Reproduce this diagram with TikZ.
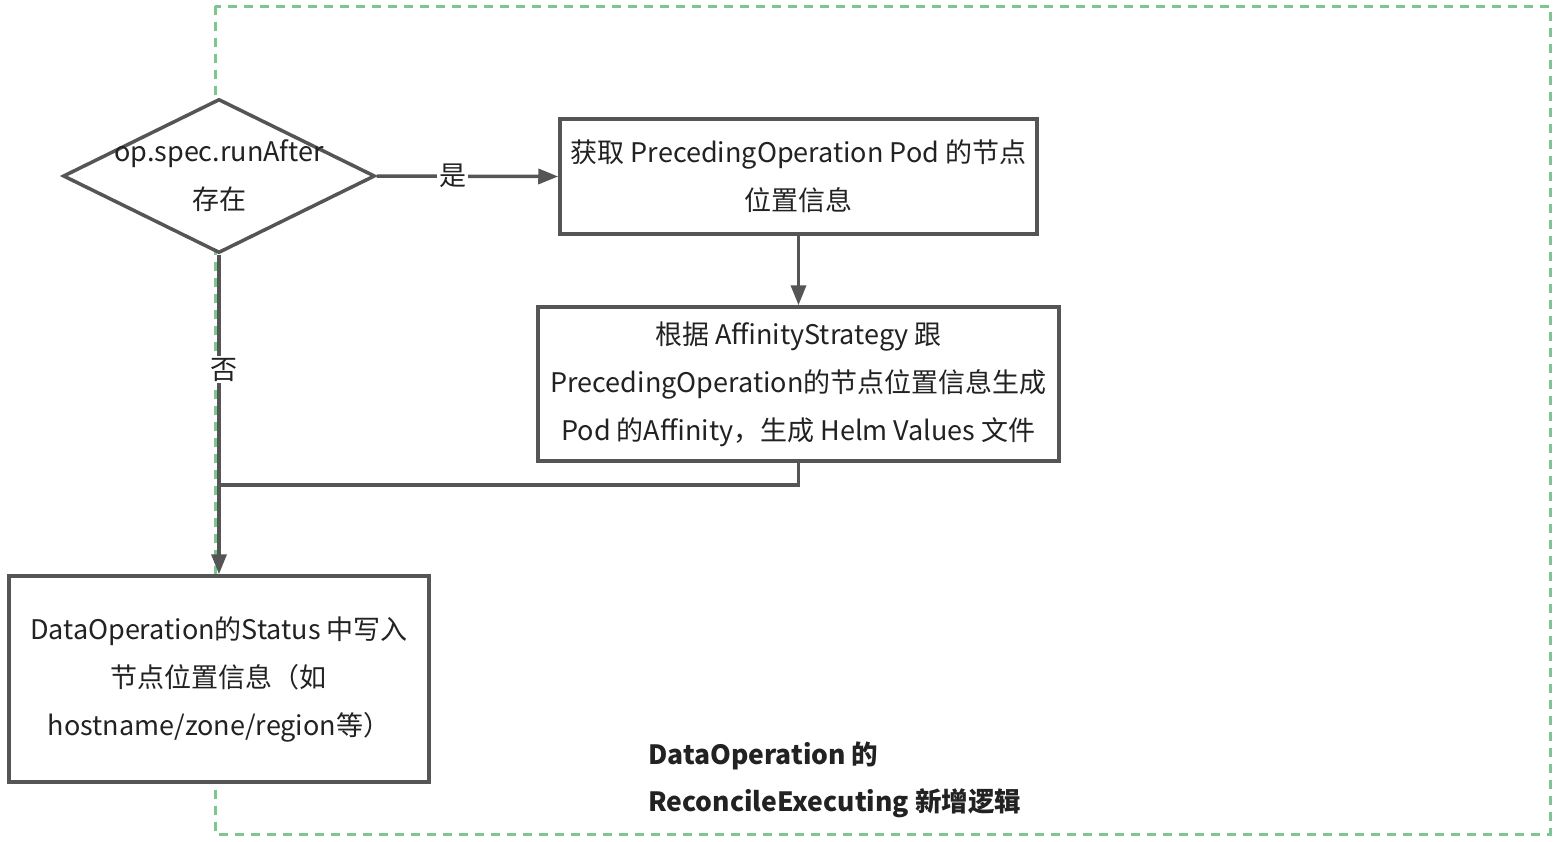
\documentclass[tikz,border=0pt]{standalone}
\usepackage{fontspec}
\setmainfont{Noto Sans CJK SC}
\usetikzlibrary{shapes.geometric,arrows.meta}
\definecolor{linegray}{HTML}{555555}
\definecolor{dashgreen}{HTML}{7DC690}
\definecolor{txt}{HTML}{222222}
\begin{document}
\begin{tikzpicture}[x=1pt,y=-1pt,
  every node/.style={text=txt,font=\fontsize{27}{48}\selectfont},
  procbox/.style={draw=linegray,line width=3.5pt,fill=white,align=center,inner sep=0pt},
  decision/.style={draw=linegray,line width=3.5pt,fill=white,diamond,inner sep=0pt,minimum width=312pt,minimum height=154pt},
  conn/.style={draw=linegray,line width=3.5pt},
  arr/.style={conn,-{Triangle[length=20pt,width=15pt]}},
  lbl/.style={fill=white,inner sep=2pt}]
\useasboundingbox (0,0) rectangle (1564,841);
% dashed region
\draw[dashgreen,line width=3pt,dash pattern=on 9pt off 7pt] (215,6) rectangle (1550,834);
% nodes
\node[decision] (d) at (219,176) {};
\node[align=center] (dtext) at (219,176) {op.spec.runAfter\\存在};
\node[procbox,minimum width=477pt,minimum height=115pt] (b1) at (798.5,176.5) {获取 PrecedingOperation Pod 的节点\\位置信息};
\node[procbox,minimum width=521pt,minimum height=154pt] (b2) at (798.5,384) {根据 AffinityStrategy 跟\\PrecedingOperation的节点位置信息生成\\Pod 的Affinity，生成 Helm Values 文件};
\node[procbox,minimum width=420pt,minimum height=206pt] (b3) at (219,679) {DataOperation的Status 中写入\\节点位置信息（如\\hostname/zone/region等）};
\node[anchor=west,align=left,inner sep=0pt,font=\fontsize{26.5}{47}\selectfont\bfseries] (title) at (648,780) {DataOperation 的\\ReconcileExecuting 新增逻辑};
% connectors
\coordinate (j) at (219,485);
\draw[arr] (d.east) -- (b1.west) node[lbl,pos=0.42] (yes) {是};
\draw[arr] (b1.south) -- (b2.north);
\draw[conn] (b2.south) |- (j);
\draw[arr] (d.south) -- (b3.north) node[lbl,pos=0.36,xshift=5pt] (no) {否};
\end{tikzpicture}
\end{document}
